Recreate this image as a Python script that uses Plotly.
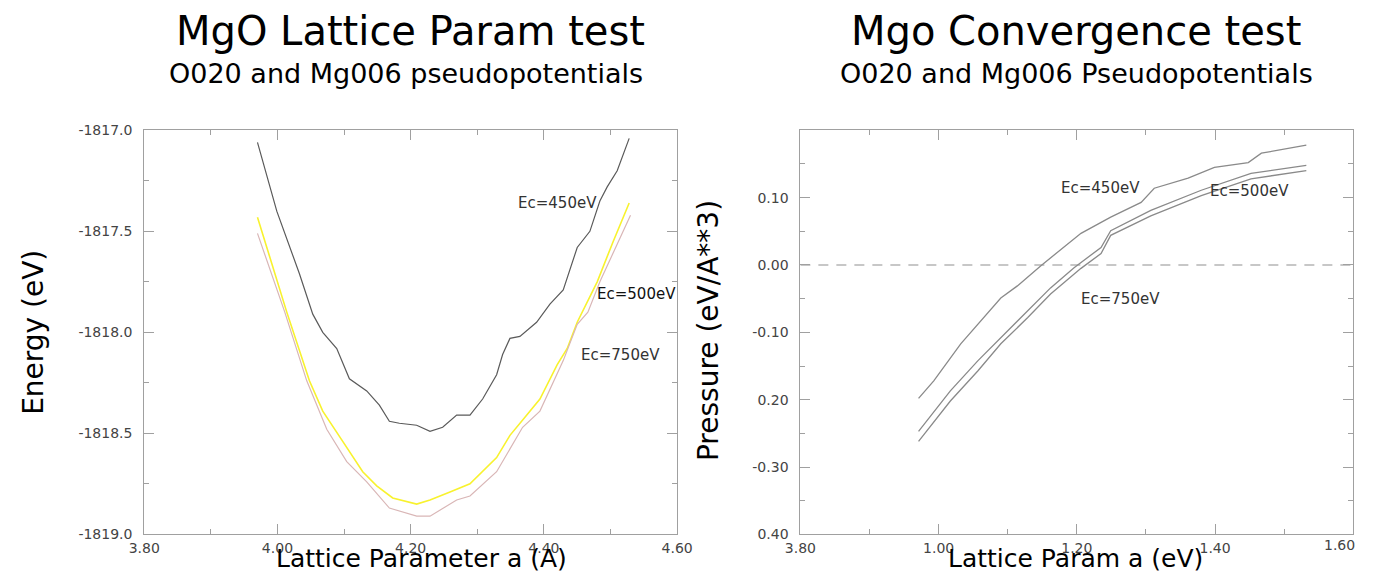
import plotly.graph_objects as go

# ---------------- Left panel data: Energy vs lattice parameter ----------------
x450_e = [3.970, 3.999, 4.033, 4.053, 4.068, 4.089, 4.108, 4.134, 4.153, 4.168, 4.183, 4.209, 4.229,
          4.248, 4.269, 4.289, 4.308, 4.329, 4.338, 4.349, 4.364, 4.389, 4.409, 4.429, 4.450, 4.469,
          4.484, 4.495, 4.510, 4.528]
e450 = [-1817.06, -1817.40, -1817.71, -1817.91, -1818.00, -1818.08, -1818.23, -1818.29, -1818.36,
        -1818.44, -1818.45, -1818.46, -1818.49, -1818.47, -1818.41, -1818.41, -1818.33, -1818.21,
        -1818.11, -1818.03, -1818.02, -1817.95, -1817.86, -1817.79, -1817.58, -1817.50, -1817.35,
        -1817.28, -1817.20, -1817.04]

x500_e = [3.970, 4.014, 4.048, 4.068, 4.098, 4.128, 4.149, 4.173, 4.209, 4.229, 4.259, 4.289, 4.329,
          4.349, 4.374, 4.394, 4.420, 4.435, 4.450, 4.465, 4.480, 4.504, 4.528]
e500 = [-1817.43, -1817.90, -1818.24, -1818.39, -1818.54, -1818.69, -1818.76, -1818.82, -1818.85,
        -1818.83, -1818.79, -1818.75, -1818.62, -1818.51, -1818.41, -1818.33, -1818.16, -1818.08,
        -1817.95, -1817.85, -1817.75, -1817.55, -1817.36]

x750_e = [3.970, 4.011, 4.044, 4.074, 4.104, 4.134, 4.168, 4.209, 4.229, 4.269, 4.289, 4.329, 4.368,
          4.394, 4.429, 4.450, 4.466, 4.484, 4.530]
e750 = [-1817.51, -1817.90, -1818.24, -1818.48, -1818.64, -1818.74, -1818.87, -1818.91, -1818.91,
        -1818.83, -1818.81, -1818.69, -1818.47, -1818.39, -1818.14, -1817.96, -1817.90, -1817.75,
        -1817.42]

# ---------------- Right panel data: Pressure vs lattice parameter ----------------
x450_p = [3.971, 3.993, 4.032, 4.061, 4.090, 4.114, 4.148, 4.206, 4.249, 4.293, 4.312, 4.361, 4.399,
          4.448, 4.467, 4.532]
p450 = [-0.198, -0.172, -0.117, -0.083, -0.049, -0.031, -0.001, 0.047, 0.071, 0.093, 0.114, 0.129,
        0.145, 0.152, 0.166, 0.178]

x500_p = [3.971, 4.017, 4.057, 4.090, 4.129, 4.162, 4.196, 4.235, 4.249, 4.307, 4.380, 4.452, 4.532]
p500 = [-0.247, -0.187, -0.142, -0.108, -0.068, -0.034, -0.004, 0.026, 0.051, 0.081, 0.111, 0.136,
        0.148]

x750_p = [3.971, 4.017, 4.057, 4.090, 4.129, 4.162, 4.206, 4.235, 4.249, 4.307, 4.380, 4.452, 4.532]
p750 = [-0.262, -0.202, -0.157, -0.117, -0.078, -0.043, -0.005, 0.017, 0.044, 0.073, 0.103, 0.128,
        0.140]

zero_x = [3.80, 4.60]
zero_y = [0.0, 0.0]

# ---------------- Tick labels ----------------
left_xticks = [3.80, 4.00, 4.20, 4.40, 4.60]
left_xtext = ["3.80", "4.00", "4.20", "4.40", "4.60"]
left_yticks = [-1819.0, -1818.5, -1818.0, -1817.5, -1817.0]
left_ytext = ["-1819.0", "-1818.5", "-1818.0", "-1817.5", "-1817.0"]
right_xticks = [3.80, 4.00, 4.20, 4.40, 4.60]
right_xtext = ["3.80", "1.00", "1.20", "1.40", ""]
right_last_xlabel = "1.60"
right_yticks = [-0.40, -0.30, -0.20, -0.10, 0.00, 0.10, 0.20]
right_ytext = ["0.40", "-0.30", "0.20", "-0.10", "0.00", "0.10", ""]

FONT = "DejaVu Sans, Liberation Sans, sans-serif"
AX = "#a0a0a0"
W, H = 1373, 582
# empirical mapping from target picture pixels to layout pixels
SX, BX, SY, BY = 0.975, 17.0, 0.970, 8.0


def fx(p):
    return ((p - BX) / SX) / W


def fy(p):
    return 1 - ((p - BY) / SY) / H


fig = go.Figure()
fig.add_trace(go.Scatter(x=x450_e, y=e450, mode="lines", line=dict(color="#5a5a5a", width=1.2),
                         xaxis="x", yaxis="y", showlegend=False))
fig.add_trace(go.Scatter(x=x500_e, y=e500, mode="lines", line=dict(color="#f8f22e", width=1.6),
                         xaxis="x", yaxis="y", showlegend=False))
fig.add_trace(go.Scatter(x=x750_e, y=e750, mode="lines", line=dict(color="#d9b6b6", width=1.2),
                         xaxis="x", yaxis="y", showlegend=False))

fig.add_trace(go.Scatter(x=zero_x, y=zero_y, mode="lines", line=dict(color="#8f8f8f", width=1.2, dash="10px,8px"),
                         xaxis="x2", yaxis="y2", showlegend=False))
for xs, ys in [(x450_p, p450), (x500_p, p500), (x750_p, p750)]:
    fig.add_trace(go.Scatter(x=xs, y=ys, mode="lines", line=dict(color="#8a8a8a", width=1.3),
                             xaxis="x2", yaxis="y2", showlegend=False))

axis_common = dict(showgrid=False, zeroline=False, showline=True, linecolor=AX, linewidth=1,
                   mirror="ticks", ticks="inside", ticklen=10, tickcolor=AX, tickwidth=1,
                   tickfont=dict(family=FONT, size=14, color="#444444"))

ydom = [fy(533), fy(130)]

fig.update_layout(
    width=W, height=H,
    margin=dict(l=0, r=0, t=0, b=0),
    paper_bgcolor="white", plot_bgcolor="white",
    xaxis=dict(domain=[fx(145), fx(677)], range=[3.8, 4.6], tickmode="array",
               tickvals=left_xticks, ticktext=left_xtext, anchor="y", ticklabelstandoff=1,
               minor=dict(ticks="inside", ticklen=5, tickcolor=AX, dtick=0.1, tick0=3.8),
               **axis_common),
    yaxis=dict(domain=ydom, range=[-1819.0, -1817.0], tickmode="array",
               tickvals=left_yticks, ticktext=left_ytext, anchor="x", ticklabelstandoff=8,
               minor=dict(ticks="inside", ticklen=5, tickcolor=AX, dtick=0.25, tick0=-1819.0),
               **axis_common),
    xaxis2=dict(domain=[fx(800), min(fx(1352), 1.0)], range=[3.8, 4.6], tickmode="array",
                tickvals=right_xticks, ticktext=right_xtext, anchor="y2", ticklabelstandoff=1,
                minor=dict(ticks="inside", ticklen=5, tickcolor=AX, dtick=0.1, tick0=3.8),
                **axis_common),
    yaxis2=dict(domain=ydom, range=[-0.4, 0.2], tickmode="array",
                tickvals=right_yticks, ticktext=right_ytext, anchor="x2", ticklabelstandoff=8,
                minor=dict(ticks="inside", ticklen=5, tickcolor=AX, dtick=0.05, tick0=-0.4),
                **axis_common),
)

ann = []


def txt(px, pyy, s, size, color="black", angle=0, xanchor="center", yanchor="middle", x=None):
    ann.append(dict(x=fx(px) if x is None else x, y=fy(pyy), xref="paper", yref="paper", text=s,
                    showarrow=False, textangle=angle, xanchor=xanchor, yanchor=yanchor,
                    font=dict(family=FONT, size=size, color=color)))


# titles
txt(411, 31, "MgO Lattice Param test", 40)
txt(406, 73, "O020 and Mg006 pseudopotentials", 27)
txt(1075, 31, "Mgo Convergence test", 40)
txt(1076, 73, "O020 and Mg006 Pseudopotentials", 27)
# axis titles
txt(35, 332, "Energy (eV)", 28, angle=-90)
txt(422, 557, "Lattice Parameter a (A)", 25)
txt(709, 330, "Pressure (eV/A**3)", 28, angle=-90)
txt(1075, 557, "Lattice Param a (eV)", 25)
# last tick label of the right x axis (kept inside the page)
txt(0, 534, right_last_xlabel, 14, color="#444444", xanchor="right", yanchor="top", x=1.0)
# curve labels (left)
txt(558, 202, "Ec=450eV", 15, color="#333333")
txt(636, 293, "Ec=500eV", 15, color="#111111")
txt(620, 354, "Ec=750eV", 15, color="#333333")
# curve labels (right)
txt(1100, 188, "Ec=450eV", 15, color="#333333")
txt(1248, 191, "Ec=500eV", 15, color="#333333")
txt(1120, 298, "Ec=750eV", 15, color="#333333")

fig.update_layout(annotations=ann)
fig.write_html("out.html", config={"displayModeBar": False},
               post_script="document.body.style.margin='0';document.body.style.padding='0';")
